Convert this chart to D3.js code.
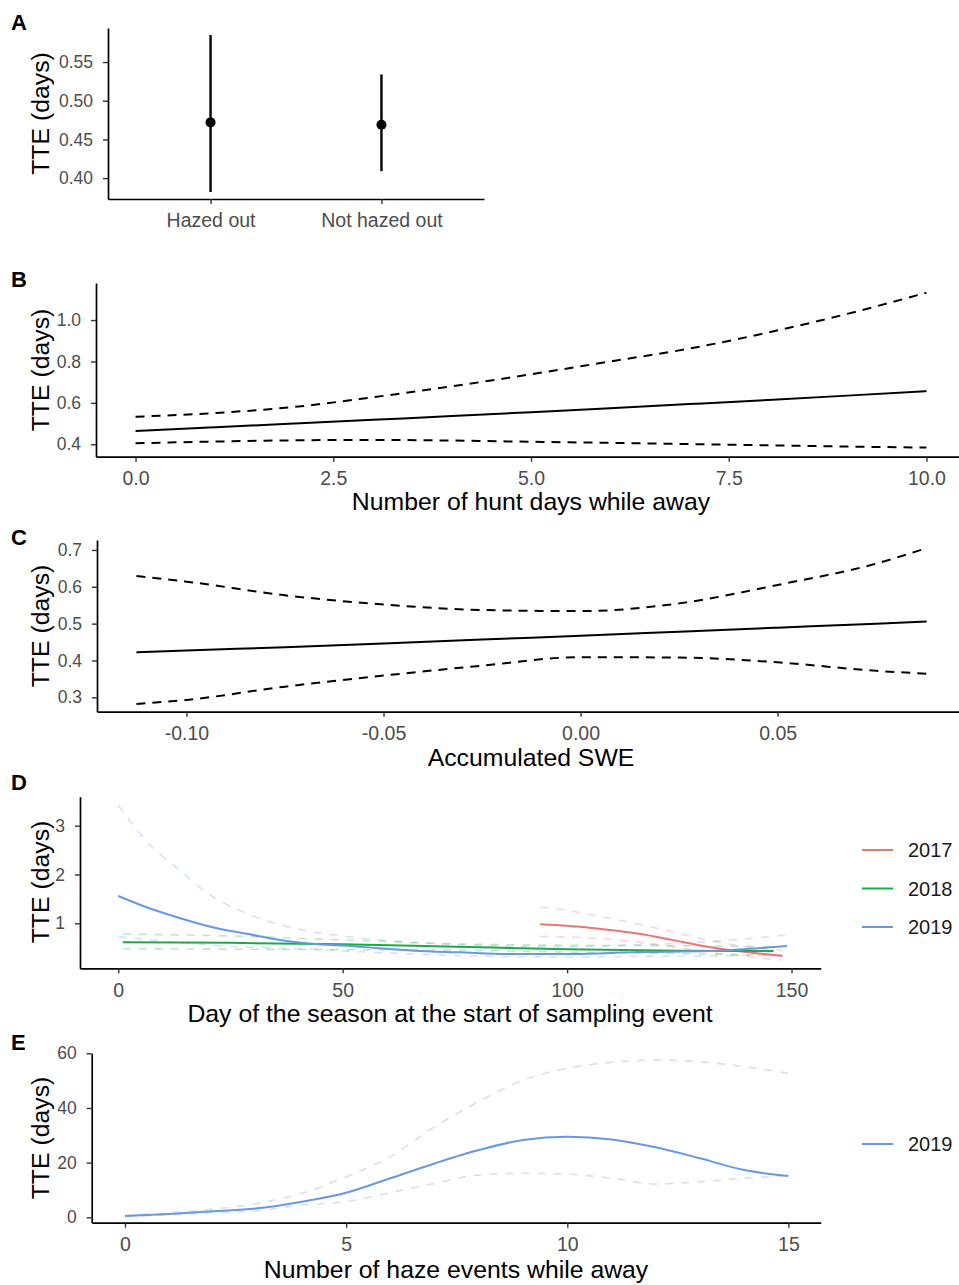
<!DOCTYPE html>
<html>
<head>
<meta charset="utf-8">
<script src="https://cdn.jsdelivr.net/npm/d3@7"></script>
<style>
  body { margin: 0; background: #fff; }
  text { font-family: "Liberation Sans", Arial, sans-serif; }
</style>
</head>
<body>
<div id="chart"></div>
<script>
// ---- panel A: hazed out vs not
var groupsA = ["Hazed out", "Not hazed out"];
var estA = [0.472, 0.469];
var lowA = [0.382, 0.409];
var highA = [0.585, 0.534];
var ticksA = [0.40, 0.45, 0.50, 0.55];

// ---- panel B: hunt days
var huntDays = [0, 1, 2, 3, 4, 5, 6, 7, 8, 9, 10];
var fitB = [0.464, 0.482, 0.500, 0.518, 0.536, 0.555, 0.574, 0.594, 0.614, 0.635, 0.657];
var upperB = [0.533, 0.551, 0.580, 0.627, 0.680, 0.738, 0.800, 0.862, 0.940, 1.030, 1.132];
var lowerB = [0.405, 0.413, 0.419, 0.421, 0.418, 0.412, 0.407, 0.401, 0.395, 0.389, 0.384];
var ticksBy = [0.4, 0.6, 0.8, 1.0];
var ticksBx = [0, 2.5, 5, 7.5, 10];

// ---- panel C: accumulated SWE
var swe = [-0.1127, -0.10, -0.075, -0.05, -0.025, 0.0, 0.025, 0.05, 0.075, 0.0878];
var fitC = [0.422, 0.427, 0.436, 0.446, 0.457, 0.467, 0.478, 0.489, 0.500, 0.506];
var upperC = [0.629, 0.614, 0.577, 0.552, 0.537, 0.534, 0.555, 0.605, 0.663, 0.705];
var lowerC = [0.282, 0.293, 0.329, 0.359, 0.386, 0.409, 0.408, 0.395, 0.372, 0.364];
var ticksCy = [0.3, 0.4, 0.5, 0.6, 0.7];
var ticksCx = [-0.10, -0.05, 0.00, 0.05];

// ---- panel D: day of season, by year
var years = ["2017", "2018", "2019"];
var days2017 = [94, 100, 105, 110, 115, 120, 125, 130, 135, 140, 145, 148];
var fit2017 = [0.98, 0.95, 0.91, 0.86, 0.80, 0.72, 0.63, 0.54, 0.47, 0.41, 0.36, 0.33];
var upper2017 = [1.33, 1.27, 1.18, 1.09, 1.00, 0.90, 0.79, 0.68, 0.59, 0.52, 0.47, 0.45];
var lower2017 = [0.73, 0.72, 0.70, 0.67, 0.62, 0.56, 0.50, 0.43, 0.37, 0.32, 0.27, 0.25];
var days2018 = [1, 25, 50, 75, 100, 125, 146];
var fit2018 = [0.61, 0.60, 0.57, 0.52, 0.47, 0.44, 0.43];
var upper2018 = [0.78, 0.74, 0.66, 0.58, 0.55, 0.54, 0.52];
var lower2018 = [0.48, 0.47, 0.46, 0.45, 0.41, 0.38, 0.35];
var days2019 = [0, 6, 14, 21, 29, 36, 43, 51, 58, 66, 76, 87, 101, 116, 131, 149];
var fit2019 = [1.56, 1.34, 1.10, 0.92, 0.78, 0.66, 0.58, 0.54, 0.49, 0.44, 0.405, 0.37, 0.37, 0.41, 0.43, 0.535];
var upper2019 = [3.42, 2.71, 2.06, 1.55, 1.19, 0.97, 0.83, 0.73, 0.66, 0.60, 0.56, 0.53, 0.52, 0.56, 0.62, 0.76];
var lower2019 = [0.73, 0.67, 0.60, 0.55, 0.51, 0.49, 0.47, 0.43, 0.40, 0.37, 0.34, 0.32, 0.31, 0.32, 0.33, 0.36];
var ticksDy = [1, 2, 3];
var ticksDx = [0, 50, 100, 150];

// ---- panel E: haze events
var hazeEvents = [0, 1, 2, 3, 4, 5, 6, 7, 8, 9, 10, 11, 12, 13, 14, 15];
var fitE = [0.5, 1.2, 2.2, 3.3, 5.7, 9.0, 14.3, 19.7, 24.6, 28.3, 29.5, 28.5, 25.6, 21.6, 17.3, 15.1];
var upperE = [0.7, 1.6, 3.0, 5.1, 8.8, 14.8, 22.2, 33.1, 42.3, 50.2, 54.5, 56.7, 57.5, 56.9, 55.1, 52.7];
var lowerE = [0.3, 0.9, 1.6, 2.4, 4.5, 5.7, 9.0, 12.4, 15.5, 16.1, 15.8, 14.3, 12.2, 13.0, 14.3, 15.1];
var ticksEy = [0, 20, 40, 60];
var ticksEx = [0, 5, 10, 15];

var yearColor = {"2017": "#ec7470", "2018": "#18ad45", "2019": "#6897e6"};

var W = 959, H = 1285;
var yTickFont = 17.5, xTickFont = 19.5, titleFont = 24.8, legendFont = 20;

var svg = d3.select("#chart").append("svg")
    .attr("width", W).attr("height", H)
    .style("background", "#fff");

function zip(xs, ys) {
    return xs.map(function (d, i) { return [d, ys[i]]; });
}

// ggplot prints a plain hyphen, not the unicode minus
function hyphen(f) {
    return function (d) { return f(d).replace("\u2212", "-"); };
}

// axis helper, ggplot classic look
function drawAxes(x, y, xticks, yticks, fmtX, fmtY, isBand) {
    var g = svg.append("g");
    var yr = y.range();
    var xr = x.range();
    var yAxis = d3.axisLeft(y).tickValues(yticks).tickFormat(fmtY)
        .tickSize(5).tickSizeOuter(0).tickPadding(10);
    var ya = g.append("g").attr("transform", "translate(" + xr[0] + ",0)").call(yAxis);
    var xAxis = (isBand ? d3.axisBottom(x) : d3.axisBottom(x).tickValues(xticks).tickFormat(fmtX))
        .tickSize(5).tickSizeOuter(0).tickPadding(9.5);
    var xa = g.append("g").attr("transform", "translate(0," + yr[0] + ")").call(xAxis);
    [[ya, yTickFont], [xa, xTickFont]].forEach(function (p) {
        var a = p[0];
        a.select(".domain").attr("stroke", "#000").attr("stroke-width", 1.7);
        a.selectAll(".tick line").attr("stroke", "#333").attr("stroke-width", 1.4);
        a.selectAll(".tick text").attr("fill", "#4d4d4d")
            .style("font-size", p[1] + "px")
            .style("font-family", "'Liberation Sans', Arial, sans-serif");
    });
    return g;
}

function yTitle(cy) {
    svg.append("text")
        .attr("transform", "translate(49," + cy + ") rotate(-90)")
        .attr("text-anchor", "middle")
        .style("font-size", titleFont + "px")
        .attr("fill", "#000")
        .text("TTE (days)");
}

function xTitle(cx, y, label) {
    svg.append("text")
        .attr("x", cx).attr("y", y)
        .attr("text-anchor", "middle")
        .style("font-size", titleFont + "px")
        .attr("fill", "#000")
        .text(label);
}

function panelLabel(label, y) {
    svg.append("text")
        .attr("x", 11).attr("y", y)
        .style("font-size", "22px").style("font-weight", "bold")
        .attr("fill", "#000")
        .text(label);
}

function drawLine(x, y, pts, color, width, dash, opacity) {
    var line = d3.line()
        .x(function (d) { return x(d[0]); })
        .y(function (d) { return y(d[1]); })
        .curve(d3.curveMonotoneX);
    svg.append("path")
        .datum(pts)
        .attr("d", line)
        .attr("fill", "none")
        .attr("stroke", color)
        .attr("stroke-width", width)
        .attr("stroke-dasharray", dash || null)
        .attr("stroke-opacity", opacity == null ? 1 : opacity);
}

var fmt1 = hyphen(d3.format(".1f")), fmt2 = hyphen(d3.format(".2f")), fmt0 = d3.format("d");

/**
 *  Panel A
 */
var xA = d3.scalePoint().domain(groupsA).range([108, 484]).padding(0.6);
var yA = d3.scaleLinear().domain([0.373, 0.594]).range([199, 28]);
drawAxes(xA, yA, null, ticksA, null, fmt2, true);
svg.append("g").selectAll("line")
    .data(groupsA)
    .enter().append("line")
    .attr("x1", function (d) { return xA(d); })
    .attr("x2", function (d) { return xA(d); })
    .attr("y1", function (d, i) { return yA(lowA[i]); })
    .attr("y2", function (d, i) { return yA(highA[i]); })
    .attr("stroke", "#000").attr("stroke-width", 2.4);
svg.append("g").selectAll("circle")
    .data(groupsA)
    .enter().append("circle")
    .attr("cx", function (d) { return xA(d); })
    .attr("cy", function (d, i) { return yA(estA[i]); })
    .attr("r", 5).attr("fill", "#000");
yTitle(113.5);
panelLabel("A", 30);

/**
 *  Panel B
 */
var xB = d3.scaleLinear().domain([-0.5, 10.5]).range([96, 966]);
var yB = d3.scaleLinear().domain([0.340, 1.179]).range([456.7, 283]);
drawAxes(xB, yB, ticksBx, ticksBy, fmt1, fmt1);
drawLine(xB, yB, zip(huntDays, upperB), "#000", 2, "9,7");
drawLine(xB, yB, zip(huntDays, lowerB), "#000", 2, "9,7");
drawLine(xB, yB, zip(huntDays, fitB), "#000", 2);
yTitle(370);
xTitle(531, 510, "Number of hunt days while away");
panelLabel("B", 287);

/**
 *  Panel C
 */
var xC = d3.scaleLinear().domain([-0.1227, 0.0978]).range([97, 966]);
var yC = d3.scaleLinear().domain([0.261, 0.727]).range([711.7, 540]);
drawAxes(xC, yC, ticksCx, ticksCy, fmt2, fmt1);
drawLine(xC, yC, zip(swe, upperC), "#000", 2, "9,7");
drawLine(xC, yC, zip(swe, lowerC), "#000", 2, "9,7");
drawLine(xC, yC, zip(swe, fitC), "#000", 2);
yTitle(626);
xTitle(531, 766, "Accumulated SWE");
panelLabel("C", 545);

/**
 *  Panel D
 */
var xD = d3.scaleLinear().domain([-8.53, 156.5]).range([80, 820.7]);
var yD = d3.scaleLinear().domain([0.078, 3.594]).range([968.3, 796.7]);
drawAxes(xD, yD, ticksDx, ticksDy, fmt0, fmt0);
var seriesD = [
    {year: "2017", days: days2017, fit: fit2017, up: upper2017, lo: lower2017},
    {year: "2018", days: days2018, fit: fit2018, up: upper2018, lo: lower2018},
    {year: "2019", days: days2019, fit: fit2019, up: upper2019, lo: lower2019}
];
seriesD.forEach(function (s) {
    drawLine(xD, yD, zip(s.days, s.up), yearColor[s.year], 1.6, "8,8", 0.28);
    drawLine(xD, yD, zip(s.days, s.lo), yearColor[s.year], 1.6, "8,8", 0.28);
});
seriesD.forEach(function (s) {
    drawLine(xD, yD, zip(s.days, s.fit), yearColor[s.year], 2);
});
yTitle(882);
xTitle(450, 1022, "Day of the season at the start of sampling event");
panelLabel("D", 790);

var legD = svg.append("g").selectAll("g")
    .data(years)
    .enter().append("g")
    .attr("transform", function (d, i) { return "translate(862," + (850 + i * 38.5) + ")"; });
legD.append("line").attr("x1", 0).attr("x2", 31)
    .attr("stroke", function (d) { return yearColor[d]; }).attr("stroke-width", 2);
legD.append("text").attr("x", 46).attr("dy", "0.35em")
    .style("font-size", legendFont + "px").attr("fill", "#1a1a1a")
    .text(function (d) { return d; });

/**
 *  Panel E
 */
var xE = d3.scaleLinear().domain([-0.753, 15.73]).range([91.7, 820.7]);
var yE = d3.scaleLinear().domain([-1.98, 60]).range([1222.7, 1053.3]);
drawAxes(xE, yE, ticksEx, ticksEy, fmt0, fmt0);
drawLine(xE, yE, zip(hazeEvents, upperE), "#c9d3df", 1.6, "8,8", 0.7);
drawLine(xE, yE, zip(hazeEvents, lowerE), "#c9d3df", 1.6, "8,8", 0.7);
drawLine(xE, yE, zip(hazeEvents, fitE), yearColor["2019"], 2);
yTitle(1138);
xTitle(456, 1278, "Number of haze events while away");
panelLabel("E", 1050);

var legE = svg.append("g").attr("transform", "translate(862,1144)");
legE.append("line").attr("x1", 0).attr("x2", 31)
    .attr("stroke", yearColor["2019"]).attr("stroke-width", 2);
legE.append("text").attr("x", 46).attr("dy", "0.35em")
    .style("font-size", legendFont + "px").attr("fill", "#1a1a1a")
    .text("2019");
</script>
</body>
</html>
